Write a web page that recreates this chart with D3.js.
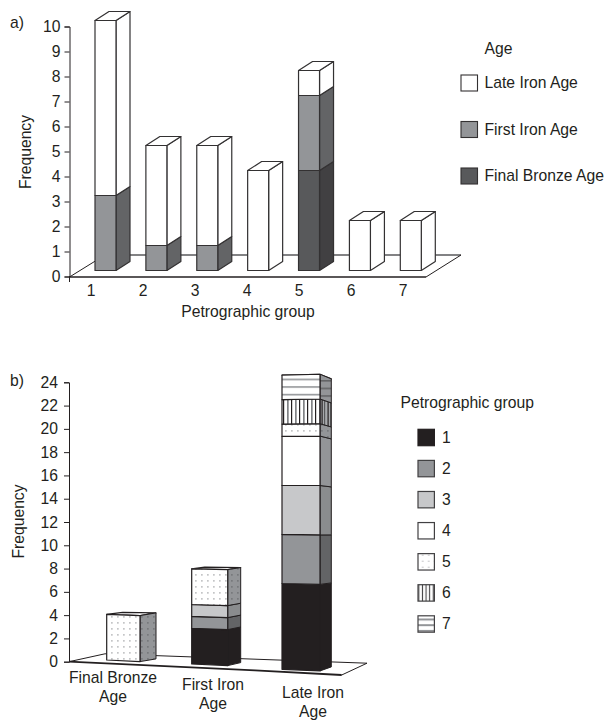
<!DOCTYPE html>
<html>
<head>
<meta charset="utf-8">
<script src="https://cdn.jsdelivr.net/npm/d3@7"></script>
<style>
html,body{margin:0;padding:0;background:#fff;}
svg{display:block;}
text{font-family:"Liberation Sans",Arial,sans-serif;fill:#231f20;}
</style>
</head>
<body>
<svg id="c" width="605" height="720"></svg>
<script>
const groups = [1, 2, 3, 4, 5, 6, 7];
const ages = ["Final Bronze Age", "First Iron Age", "Late Iron Age"];
const finalBronze = [0, 0, 0, 0, 4, 0, 0];
const firstIron = [3, 1, 1, 0, 3, 0, 0];
const lateIron = [7, 4, 4, 4, 1, 2, 2];
const ageTicks = [[ "Final Bronze", "Age" ], [ "First Iron", "Age" ], [ "Late Iron", "Age" ]];
const ageLegendOrder = ["Late Iron Age", "First Iron Age", "Final Bronze Age"];

const INK = "#231f20", FS = 15.7;
const ageFront = {"Final Bronze Age":"#58595b","First Iron Age":"#939598","Late Iron Age":"#ffffff"};
const ageSide  = {"Final Bronze Age":"#414042","First Iron Age":"#636466","Late Iron Age":"#ffffff"};
const groupFront = ["#231f20","#939598","#c7c8ca","#ffffff","url(#dots)","url(#vert)","url(#horz)"];
const groupSide  = ["#231f20","#636466","#8a8c8e","#939598","url(#dotsSide)","url(#vertSide)","url(#horzSide)"];
const groupLegend = ["#231f20","#939598","#c7c8ca","#ffffff","url(#dotsLeg)","url(#vertLeg)","url(#horzLeg)"];

const svg = d3.select("#c");
const poly = d3.line();
const defs = svg.append("defs");
function pattern(id, w, h, bg, x0, y0){
  const p = defs.append("pattern").attr("id",id).attr("patternUnits","userSpaceOnUse")
    .attr("width",w).attr("height",h).attr("x",x0||0).attr("y",y0||0);
  p.append("rect").attr("width",w).attr("height",h).attr("fill",bg);
  return p;
}
pattern("dots",6,6,"#fff",1,2).append("rect").attr("x",2).attr("y",2).attr("width",1.7).attr("height",1.7).attr("fill","#c4c5c7");
pattern("dotsSide",6,6,"#939598",1,2).append("rect").attr("x",2).attr("y",2).attr("width",1.7).attr("height",1.7).attr("fill","#77797c");
pattern("dotsLeg",6,6,"#fff",417.5,556).append("rect").attr("x",4.6).attr("y",4.6).attr("width",1.7).attr("height",1.7).attr("fill","#c4c5c7");
let p = pattern("vert",8,8,"#fff",283,0);
p.append("rect").attr("x",0).attr("width",1.2).attr("height",8).attr("fill",INK);
p.append("rect").attr("x",4).attr("width",1.7).attr("height",8).attr("fill","#808285");
p = pattern("vertSide",6,8,"#a7a9ac",320,0);
p.append("rect").attr("x",1.5).attr("width",1.2).attr("height",8).attr("fill",INK);
p.append("rect").attr("x",4).attr("width",1.2).attr("height",8).attr("fill","#58595b");
p = pattern("vertLeg",3.6,8,"#fff",417.5,0);
p.append("rect").attr("x",0.8).attr("width",1.1).attr("height",8).attr("fill","#414042");
p = pattern("horz",8,7.6,"#fff",0,378.6);
p.append("rect").attr("y",0).attr("width",8).attr("height",1.6).attr("fill","#939598");
p = pattern("horzSide",8,7.6,"#939598",0,380);
p.append("rect").attr("y",0).attr("width",8).attr("height",1.6).attr("fill","#636466");
p = pattern("horzLeg",8,5.7,"#fff",0,618.5);
p.append("rect").attr("y",0).attr("width",8).attr("height",2).attr("fill","#939598");

/* ---------- panel a ---------- */
const a = svg.append("g");
const ayAxis = d3.scaleLinear().domain([0,10]).range([276.5,26.5]);
const ayBar  = d3.scaleLinear().domain([0,10]).range([270.5,20.5]);
const axBar  = d3.scaleLinear().domain([1,7]).range([95,400.3]);
const axTick = d3.scaleLinear().domain([1,7]).range([91,403]);
const aW = 21, aDx = 14, aDy = 9;

a.append("path").attr("d",poly([[69.5,277],[105,255]])).attr("fill","none").attr("stroke",INK).attr("stroke-width",1);
a.append("path").attr("d",poly([[105,255],[461,255]])).attr("fill","none").attr("stroke","#58595b").attr("stroke-width",1.4);
a.append("path").attr("d",poly([[461,255],[426,277]])).attr("fill","none").attr("stroke",INK).attr("stroke-width",1);
a.append("path").attr("d",poly([[69.5,277],[426,277]])).attr("fill","none").attr("stroke",INK).attr("stroke-width",1.3);

const aStack = d3.stack().keys(ages)(groups.map((g,i)=>({
  "Final Bronze Age":finalBronze[i],"First Iron Age":firstIron[i],"Late Iron Age":lateIron[i]})));
groups.forEach((g,i)=>{
  const x = axBar(g);
  aStack.forEach(s=>{
    const [v0,v1] = s[i];
    if (v1<=v0) return;
    const y0 = ayBar(v0), y1 = ayBar(v1);
    a.append("path").attr("d",poly([[x+aW,y0],[x+aW+aDx,y0-aDy],[x+aW+aDx,y1-aDy],[x+aW,y1]])+"Z")
      .attr("fill",ageSide[s.key]).attr("stroke","#333132").attr("stroke-width",1.2).attr("stroke-linejoin","round");
    a.append("path").attr("d",poly([[x,y0],[x+aW,y0],[x+aW,y1],[x,y1]])+"Z")
      .attr("fill",ageFront[s.key]).attr("stroke","#333132").attr("stroke-width",1.2).attr("stroke-linejoin","round");
  });
  const top = ayBar(d3.sum(aStack,s=>s[i][1]-s[i][0]));
  a.append("path").attr("d",poly([[x,top],[x+aW,top],[x+aW+aDx,top-aDy],[x+aDx,top-aDy]])+"Z")
    .attr("fill","#fff").attr("stroke","#333132").attr("stroke-width",1.2).attr("stroke-linejoin","round");
});

const aAxis = a.append("g").attr("transform","translate(69.5,0)")
  .call(d3.axisLeft(ayAxis).tickValues(d3.range(0,11)).tickSize(5).tickPadding(4).tickFormat(d3.format("d")));
aAxis.selectAll("line,path").attr("stroke",INK).attr("stroke-width",1);
aAxis.selectAll("text").attr("font-size",FS).attr("font-family",null).attr("fill",INK);
a.append("line").attr("x1",69.5).attr("x2",69.5).attr("y1",276).attr("y2",282).attr("stroke",INK);

a.selectAll("text.gt").data(groups).enter().append("text").attr("class","gt")
  .attr("x",d=>axTick(d)).attr("y",295.5).attr("text-anchor","middle").attr("font-size",FS).text(d=>d);
a.append("text").attr("x",248).attr("y",317).attr("text-anchor","middle").attr("font-size",FS).text("Petrographic group");
a.append("text").attr("text-anchor","middle").attr("font-size",FS)
  .attr("transform","translate(31,152) rotate(-90)").text("Frequency");
a.append("text").attr("x",10).attr("y",28).attr("font-size",FS).text("a)");
a.append("text").attr("x",484.5).attr("y",54).attr("font-size",FS).text("Age");
const aLegendY = d3.scalePoint().domain(ageLegendOrder).range([83,176]);
ageLegendOrder.forEach(k=>{
  a.append("rect").attr("x",461).attr("y",aLegendY(k)-8).attr("width",16.5).attr("height",16)
    .attr("fill",ageFront[k]).attr("stroke","#333132").attr("stroke-width",1.1);
  a.append("text").attr("x",484.5).attr("y",aLegendY(k)+5.3).attr("font-size",FS).text(k);
});

/* ---------- panel b ---------- */
const b = svg.append("g");
const byAxis = d3.scaleLinear().domain([0,24]).range([661.7,382.3]);
const bIdx = [0,1,2];
const bLeft  = d3.scaleLinear().domain(bIdx).range([106.7,191.7,282]);
const bRight = d3.scaleLinear().domain(bIdx).range([140,227.7,320]);
const bOuter = d3.scaleLinear().domain(bIdx).range([156,240.7,331.3]);
const bBase  = d3.scaleLinear().domain(bIdx).range([660,664,669.3]);
const bUnit  = d3.scaleLinear().domain(bIdx).range([11.4,11.9,12.26]);
const bSide0 = d3.scaleLinear().domain(bIdx).range([-2.7,-3,-4]);
const bSideK = d3.scaleLinear().domain(bIdx).range([0,0.125,0.36]);
const bFrontK = -0.1, bFront0 = 1.6;

b.append("path").attr("d",poly([[69,661.7],[105,653.8],[367,663.2],[341.7,675]])).attr("fill","none").attr("stroke",INK).attr("stroke-width",1);
b.append("path").attr("d",poly([[69,661.7],[255,670.4],[341.7,675]])).attr("fill","none").attr("stroke",INK).attr("stroke-width",1.8);

const bySeries = [finalBronze, firstIron, lateIron];
bySeries.forEach((vals,i)=>{
  const L=bLeft(i),R=bRight(i),O=bOuter(i),B=bBase(i),U=bUnit(i);
  const yFL = v=>B-U*v;
  const yFR = v=>B-U*v+bFront0+bFrontK*v;
  const yS  = v=>yFR(v)+bSide0(i)+bSideK(i)*v;
  const total = d3.sum(vals);
  const stroke = INK;
  b.append("path").attr("d",poly([[L,yFL(total)],[R,yFR(total)],[O,yS(total)],[L+(O-R),yS(total)-0.5]])+"Z")
    .attr("fill","#fff").attr("stroke",stroke).attr("stroke-width",1.2).attr("stroke-linejoin","round");
  let acc = 0;
  groups.forEach((g,j)=>{
    const v = vals[j];
    if (!v) return;
    const v0=acc, v1=acc+v; acc=v1;
    b.append("path").attr("d",poly([[R,yFR(v0)],[O,yS(v0)],[O,yS(v1)],[R,yFR(v1)]])+"Z")
      .attr("fill",groupSide[j]).attr("stroke",stroke).attr("stroke-width",1).attr("stroke-linejoin","round");
    b.append("path").attr("d",poly([[L,yFL(v0)],[R,yFR(v0)],[R,yFR(v1)],[L,yFL(v1)]])+"Z")
      .attr("fill",groupFront[j]).attr("stroke",stroke).attr("stroke-width",1.2).attr("stroke-linejoin","round");
  });
});

const bAxis = b.append("g").attr("transform","translate(69,0)")
  .call(d3.axisLeft(byAxis).tickValues(d3.range(0,25,2)).tickSize(5).tickPadding(6).tickFormat(d3.format("d")));
bAxis.selectAll("line,path").attr("stroke",INK).attr("stroke-width",1);
bAxis.selectAll("text").attr("font-size",FS).attr("font-family",null).attr("fill",INK);

const labelX = d3.scaleLinear().domain(bIdx).range([113,213,313]);
const labelY = d3.scaleLinear().domain(bIdx).range([683,690,698]);
ageTicks.forEach((lines,i)=>{
  lines.forEach((t,k)=>{
    b.append("text").attr("x",labelX(i)).attr("y",labelY(i)+k*19).attr("text-anchor","middle").attr("font-size",FS).text(t);
  });
});
b.append("text").attr("text-anchor","middle").attr("font-size",FS)
  .attr("transform","translate(24,521.5) rotate(-90)").text("Frequency");
b.append("text").attr("x",10).attr("y",386).attr("font-size",FS).text("b)");
b.append("text").attr("x",400.5).attr("y",408).attr("font-size",FS).text("Petrographic group");
const bLegendY = d3.scaleLinear().domain([1,7]).range([437.5,624]);
groups.forEach((g,j)=>{
  b.append("rect").attr("x",418).attr("y",bLegendY(g)-8.2).attr("width",16.4).attr("height",16.4)
    .attr("fill",groupLegend[j]).attr("stroke",j===0?INK:"#414042").attr("stroke-width",1.2);
  b.append("text").attr("x",442).attr("y",bLegendY(g)+5.2).attr("font-size",FS).text(g);
});
</script>
</body>
</html>
